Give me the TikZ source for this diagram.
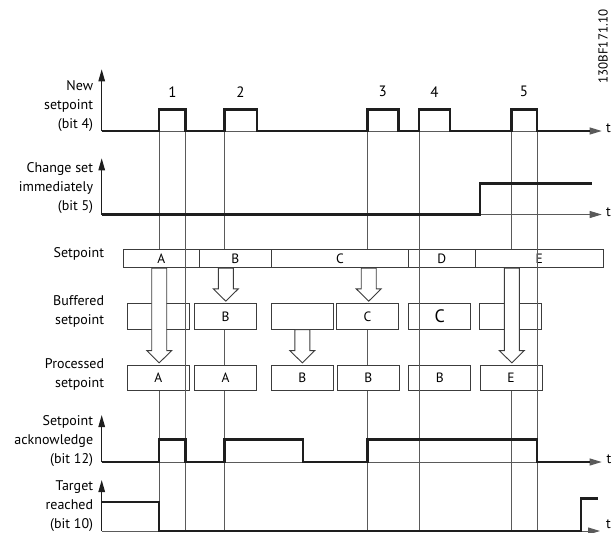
\documentclass[tikz,border=0pt]{standalone}
\usepackage{fontspec}
\setmainfont{PT Sans}
\usetikzlibrary{arrows.meta,calc}
\definecolor{sigc}{HTML}{1E1E1E}
\definecolor{thinc}{HTML}{5A5A5A}
\definecolor{boxc}{HTML}{3C3C3C}
\newcommand\blkarrow[3]{%
  \path[fill=white,draw=boxc,line width=0.9pt,line join=miter]
    let \p1=(#2), \p2=(#3) in
    (#1pt-7.5pt,\y1) -- (#1pt-7.5pt,\y2+14pt) -- (#1pt-12.5pt,\y2+14pt)
    -- (#1pt,\y2+1.7pt) -- (#1pt+12.5pt,\y2+14pt) -- (#1pt+7.5pt,\y2+14pt)
    -- (#1pt+7.5pt,\y1) -- cycle;}
\begin{document}
\begin{tikzpicture}[x=1pt,y=-1pt,
  sig/.style={draw=sigc,line width=2.4pt,line join=miter},
  axisline/.style={draw=thinc,line width=1pt,-{Triangle[length=12pt,width=7pt]}},
  upaxis/.style={draw=sigc,line width=1.2pt,-{Triangle[length=12pt,width=6.5pt]}},
  vline/.style={draw=thinc,line width=0.9pt},
  bx/.style={draw=boxc,line width=0.9pt,inner sep=0pt,font=\fontsize{13.5}{15}\selectfont},
  lbl/.style={align=right,anchor=east,inner sep=0pt,font=\fontsize{14}{19}\selectfont},
  num/.style={inner sep=0pt,font=\fontsize{15}{17}\selectfont},
  tl/.style={inner sep=0pt,font=\fontsize{14}{16}\selectfont}]
\useasboundingbox (0,0) rectangle (612,532);

% ---------- labels ----------
\node[lbl] (lnew) at (93.3,105.7) {New\\setpoint\\(bit 4)};
\node[lbl] (lchg) at (93.3,188.3) {Change set\\immediately\\(bit 5)};
\node[lbl] (lsp) at (104.3,254) {Setpoint};
\node[lbl] (lbuf) at (104.3,311.7) {Buffered\\setpoint};
\node[lbl] (lpro) at (104.3,374.5) {Processed\\setpoint};
\node[lbl] (lack) at (93.3,440.7) {Setpoint\\acknowledge\\(bit 12)};
\node[lbl] (ltar) at (93.3,506) {Target\\reached\\(bit 10)};

\node[num] (n1) at (172.5,91.7) {1};
\node[num] (n2) at (240.5,91.7) {2};
\node[num] (n3) at (382.6,91.7) {3};
\node[num] (n4) at (434.5,91.7) {4};
\node[num] (n5) at (524,91.7) {5};

\node[inner sep=0pt,rotate=90,font=\fontsize{13}{15}\selectfont] (code) at (603,46.7) {130BF171.10};

% ---------- pulse edge coordinates ----------
\coordinate (e1) at (159.2,109.5);
\coordinate (e2) at (185.5,109.5);
\coordinate (e3) at (224.3,109.5);
\coordinate (e4) at (367.5,109.5);
\coordinate (e5) at (419.2,109.5);
\coordinate (e6) at (511.3,109.5);
\coordinate (e7) at (537,109.5);
\coordinate (bot) at (0,532);

% ---------- boxes ----------
\node[bx,minimum width=76pt,minimum height=18.4pt] (spA) at (161.3,258.5) {A};
\node[bx,minimum width=72pt,minimum height=18.4pt] (spB) at (235.3,258.5) {\raisebox{-1pt}{B}};
\node[bx,minimum width=137.4pt,minimum height=18.4pt] (spC) at (340,258.5) {C};
\node[bx,minimum width=66.3pt,minimum height=18.4pt] (spD) at (441.85,258.5) {D};
\node[bx,minimum width=128.7pt,minimum height=18.4pt] (spE) at (539.35,258.5) {E};

\node[bx,minimum width=62pt,minimum height=26pt] (bf1) at (158.3,316.3) {};
\node[bx,minimum width=62.4pt,minimum height=26pt] (bf2) at (225.5,316.3) {B};
\node[bx,minimum width=62pt,minimum height=26pt] (bf3) at (302.3,316.3) {};
\node[bx,minimum width=62.7pt,minimum height=26pt] (bf4) at (367.35,316.3) {C};
\node[bx,minimum width=62pt,minimum height=26pt,font=\fontsize{18}{20}\selectfont] (bf5) at (439.7,316.3) {C};
\node[bx,minimum width=62pt,minimum height=26pt] (bf6) at (510.3,316.3) {};

\node[bx,minimum width=62pt,minimum height=25.7pt] (pr1) at (158.3,377.85) {A};
\node[bx,minimum width=62.4pt,minimum height=25.7pt] (pr2) at (225.5,377.85) {A};
\node[bx,minimum width=62pt,minimum height=25.7pt] (pr3) at (302.3,377.85) {B};
\node[bx,minimum width=62pt,minimum height=25.7pt] (pr4) at (368.3,377.85) {B};
\node[bx,minimum width=62pt,minimum height=25.7pt] (pr5) at (439.7,377.85) {B};
\node[bx,minimum width=62pt,minimum height=25.7pt] (pr6) at (511,377.85) {E};

% ---------- vertical time lines ----------
\draw[vline] (e1) -- (e1 |- spA.north);
\draw[vline] (e1 |- pr1.south) -- (e1 |- bot);
\draw[vline] (e2) -- (e2 |- bot);
\draw[vline] (e3) -- (e3 |- spB.north);
\draw[vline] (e3 |- bf2.south) -- (e3 |- pr2.north);
\draw[vline] (e3 |- pr2.south) -- (e3 |- bot);
\draw[vline] (e4) -- (e4 |- spC.north);
\draw[vline] (e4 |- bf4.south) -- (e4 |- pr4.north);
\draw[vline] (e4 |- pr4.south) -- (e4 |- bot);
\draw[vline] (e5) -- (e5 |- bot);
\draw[vline] (e6) -- (e6 |- spE.north);
\draw[vline] (e6 |- pr6.south) -- (e6 |- bot);
\draw[vline] (e7) -- (e7 |- bot);

% ---------- block arrows ----------
\blkarrow{159.2}{spA.south}{pr1.north}
\blkarrow{225.8}{spB.south}{bf2.north}
\blkarrow{368.7}{spC.south}{bf4.north}
\blkarrow{302.3}{bf3.south}{pr3.north}
\blkarrow{511.8}{spE.south}{pr6.north}

% ---------- New setpoint ----------
\coordinate (o1) at (101.7,131);
\draw[upaxis] (o1) -- (101.7,69.3);
\coordinate (t1) at (601.7,131);
\draw[axisline] (o1) -- (t1);
\draw[sig] (o1) -- (159.2,131) -- (e1) -- (e2) -- (185.5,131) -- (224.3,131) -- (e3)
  -- (256.7,109.5) -- (256.7,131) -- (367.5,131) -- (e4) -- (398.3,109.5) -- (398.3,131)
  -- (419.2,131) -- (e5) -- (450,109.5) -- (450,131) -- (511.3,131) -- (e6) -- (e7)
  -- (537,131) -- (590,131);
\node[tl] (tt1) at (608.5,128.5) {t};

% ---------- Change set immediately ----------
\coordinate (o2) at (101.7,214.5);
\draw[upaxis] (o2) -- (101.7,158.3);
\coordinate (t2) at (601.7,214.5);
\draw[axisline] (o2) -- (t2);
\draw[sig] (o2) -- (480,214.5) -- (480,183.3) -- (591.7,183.3);
\node[tl] (tt2) at (608.5,212) {t};

% ---------- Setpoint acknowledge ----------
\coordinate (o3) at (101.7,462);
\draw[upaxis] (o3) -- (101.7,415);
\coordinate (t3) at (601.7,462);
\draw[axisline] (o3) -- (t3);
\draw[sig] (o3) -- (159.2,462) -- (159.2,439.3) -- (185.5,439.3) -- (185.5,462)
  -- (224.3,462) -- (224.3,439.3) -- (302.7,439.3) -- (302.7,462) -- (367.5,462)
  -- (367.5,439.3) -- (537,439.3) -- (537,462) -- (590,462);
\node[tl] (tt3) at (609,459.5) {t};

% ---------- Target reached ----------
\coordinate (o4) at (101.7,531);
\draw[upaxis] (o4) -- (101.7,480);
\coordinate (t4) at (600,531);
\draw[axisline] (o4) -- (t4);
\draw[sig] (101.7,501.7) -- (159.2,501.7) -- (159.2,531) -- (581,531) -- (581,498.3) -- (597.7,498.3);
\node[tl] (tt4) at (608.5,524.5) {t};
\end{tikzpicture}
\end{document}
